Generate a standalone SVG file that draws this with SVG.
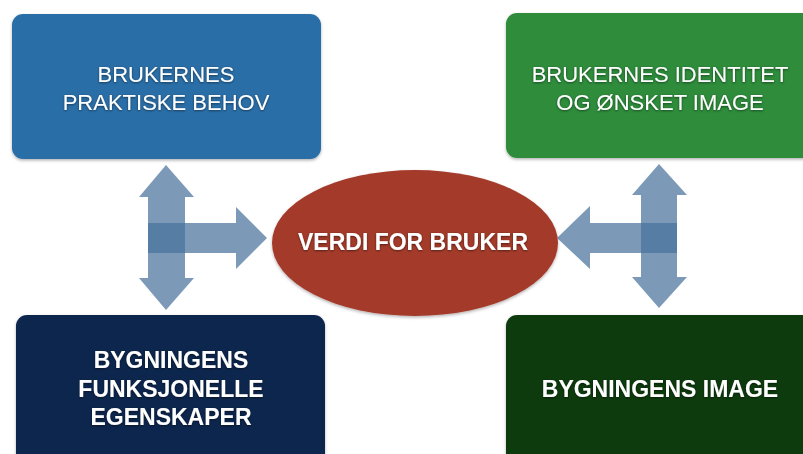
<svg xmlns="http://www.w3.org/2000/svg" width="803" height="454" viewBox="0 0 803 454">
  <defs>
    <filter id="boxShadow" x="-10%" y="-10%" width="120%" height="130%">
      <feDropShadow dx="0" dy="1.5" stdDeviation="1.5" flood-color="#000" flood-opacity="0.3"/>
    </filter>
    <filter id="textShadow" x="-5%" y="-20%" width="110%" height="140%">
      <feDropShadow dx="0" dy="0.8" stdDeviation="0.8" flood-color="#000" flood-opacity="0.55"/>
    </filter>
  </defs>
  <style>
    .box { filter: url(#boxShadow); }
    .label { font-family: "Liberation Sans", Arial, Helvetica, sans-serif; fill: #ffffff; text-anchor: middle; filter: url(#textShadow); }
    .light { font-size: 22px; font-weight: normal; }
    .bold { font-size: 23px; font-weight: bold; }
    .arrow { fill: #46719b; fill-opacity: 0.71; }
  </style>

  <rect width="803" height="454" fill="#ffffff"/>

  <!-- connectors: translucent block arrows -->
  <g id="connectors">
    <!-- left: vertical double arrow -->
    <polygon class="arrow" points="166,165 194,197 185,197 185,278 194,278 166,310 139,278 148,278 148,197 139,197"/>
    <!-- left: arrow towards the ellipse -->
    <polygon class="arrow" points="148,223 236,223 236,207 267,238 236,269 236,253 148,253"/>
    <!-- right: vertical double arrow -->
    <polygon class="arrow" points="659,164 687,195 677,195 677,277 687,277 659,308 632,277 641,277 641,195 632,195"/>
    <!-- right: arrow towards the ellipse -->
    <polygon class="arrow" points="677,223 590,223 590,206 557,238 590,269 590,253 677,253"/>
  </g>

  <g id="node-praktiske-behov">
    <rect class="box" x="12" y="14" width="309" height="145" rx="11" fill="#2c6ea7"/>
    <text class="label light" x="166" y="82">BRUKERNES</text>
    <text class="label light" x="166" y="110">PRAKTISKE BEHOV</text>
  </g>

  <g id="node-identitet">
    <rect class="box" x="506" y="13" width="310" height="145" rx="11" fill="#2f8c3b"/>
    <text class="label light" x="660" y="82">BRUKERNES IDENTITET</text>
    <text class="label light" x="660" y="110">OG ØNSKET IMAGE</text>
  </g>

  <g id="node-verdi">
    <ellipse class="box" cx="415" cy="243" rx="143" ry="73" fill="#a43a2b"/>
    <text class="label bold" x="413" y="250">VERDI FOR BRUKER</text>
  </g>

  <g id="node-funksjonelle">
    <rect class="box" x="16" y="315" width="309" height="160" rx="11" fill="#0e254e"/>
    <text class="label bold" x="171" y="368">BYGNINGENS</text>
    <text class="label bold" x="171" y="397">FUNKSJONELLE</text>
    <text class="label bold" x="171" y="425">EGENSKAPER</text>
  </g>

  <g id="node-image">
    <rect class="box" x="506" y="315" width="310" height="160" rx="11" fill="#0b3a0f"/>
    <text class="label bold" x="660" y="397">BYGNINGENS IMAGE</text>
  </g>
</svg>
